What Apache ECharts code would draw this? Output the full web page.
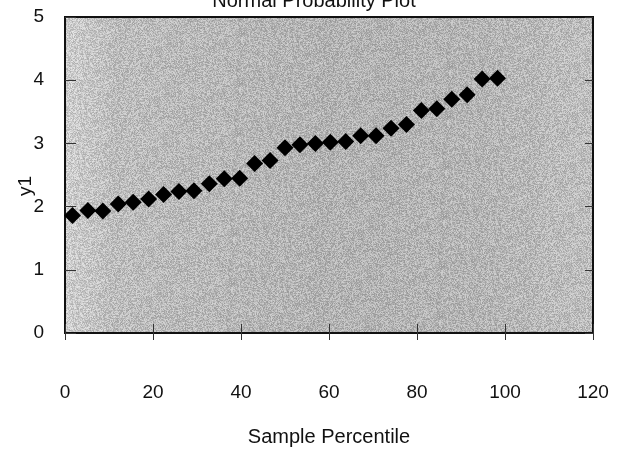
<!DOCTYPE html>
<html>
<head>
<meta charset="utf-8">
<script src="https://cdn.jsdelivr.net/npm/echarts@6/dist/echarts.min.js"></script>
<style>
html,body{margin:0;padding:0;background:#fff;}
#chart{width:628px;height:450px;}
</style>
</head>
<body>
<div id="chart"></div>
<script>
// ---- data ----
const titleText = 'Normal Probability Plot';
const xName = 'Sample Percentile';
const yName = 'y1';
const percentiles = [1.7, 5.2, 8.6, 12.1, 15.5, 19.0, 22.4, 25.9, 29.3, 32.8, 36.2, 39.7, 43.1, 46.6, 50.0,
  53.4, 56.9, 60.3, 63.8, 67.2, 70.7, 74.1, 77.6, 81.0, 84.5, 87.9, 91.4, 94.8, 98.3];
const y1Values = [1.86, 1.94, 1.93, 2.04, 2.07, 2.12, 2.19, 2.24, 2.25, 2.36, 2.44, 2.45, 2.68, 2.73, 2.93,
  2.98, 3.00, 3.02, 3.03, 3.12, 3.12, 3.24, 3.30, 3.52, 3.55, 3.70, 3.77, 4.02, 4.03];
const xTicks = [0, 20, 40, 60, 80, 100, 120];
const yTicks = [0, 1, 2, 3, 4, 5];

// ---- texture for plot background (styling only, deterministic) ----
function makeTexture(w, h) {
  const c = document.createElement('canvas');
  c.width = w; c.height = h;
  const ctx = c.getContext('2d');
  const g = ctx.createLinearGradient(65, 0, 593, 0);
  g.addColorStop(0, '#cdcdcd');
  g.addColorStop(0.1, '#bcbcbc');
  g.addColorStop(0.5, '#b2b2b2');
  g.addColorStop(0.8, '#b4b4b4');
  g.addColorStop(1, '#bebebe');
  ctx.fillStyle = g;
  ctx.fillRect(0, 0, w, h);
  const img = ctx.getImageData(0, 0, w, h);
  let s = 12345;
  for (let i = 0; i < img.data.length; i += 4) {
    s = (s * 1103515245 + 12345) & 0x7fffffff;
    const n = ((s >> 8) % 57) - 28;
    for (let k = 0; k < 3; k++) {
      img.data[i + k] = Math.max(0, Math.min(255, img.data[i + k] + n));
    }
  }
  ctx.putImageData(img, 0, 0);
  return c;
}

const chart = echarts.init(document.getElementById('chart'), null, {renderer: 'canvas'});
const font = '"Liberation Sans", Arial, sans-serif';
const plotW = 528, plotH = 316;

const baseX = {
  type: 'value', min: xTicks[0], max: xTicks[xTicks.length - 1], interval: 20,
  splitLine: {show: false}
};
const baseY = {
  type: 'value', min: yTicks[0], max: yTicks[yTicks.length - 1], interval: 1,
  splitLine: {show: false}
};

chart.setOption({
  animation: false,
  backgroundColor: '#ffffff',
  title: {
    text: titleText, left: 'center', top: -14,
    textStyle: {fontFamily: font, fontSize: 20, fontWeight: 'normal', color: '#111'}
  },
  grid: {
    left: 65, top: 17, right: 35, bottom: 117, containLabel: false,
    outerBoundsMode: 'none',
    show: true, borderColor: '#111', borderWidth: 2,
    backgroundColor: {image: makeTexture(628, 450), repeat: 'repeat'}
  },
  xAxis: [
    Object.assign({}, baseX, {
      position: 'bottom',
      name: xName, nameLocation: 'middle', nameGap: 94,
      nameTextStyle: {fontFamily: font, fontSize: 20, color: '#111'},
      axisLine: {show: true, lineStyle: {color: '#111', width: 2}},
      axisTick: {show: true, inside: true, length: 9, lineStyle: {color: '#333', width: 1}},
      axisLabel: {margin: 50, fontFamily: font, fontSize: 19, color: '#111'}
    }),
    Object.assign({}, baseX, {
      position: 'top', offset: -plotH,
      axisLine: {show: false},
      axisTick: {show: true, inside: true, length: 7, lineStyle: {color: '#333', width: 1}},
      axisLabel: {show: false}
    })
  ],
  yAxis: [
    Object.assign({}, baseY, {
      position: 'left',
      name: yName, nameLocation: 'middle', nameGap: 30, nameRotate: 90,
      nameMoveOverlap: false,
      nameTextStyle: {fontFamily: font, fontSize: 19, color: '#111', padding: [0, 0, 0, -22]},
      axisLine: {show: true, lineStyle: {color: '#111', width: 2}},
      axisTick: {show: true, inside: true, length: 11, lineStyle: {color: '#333', width: 1}},
      axisLabel: {margin: 21, fontFamily: font, fontSize: 19, color: '#111'}
    }),
    Object.assign({}, baseY, {
      position: 'right', offset: -plotW,
      axisLine: {show: false},
      axisTick: {show: true, inside: true, length: 8, lineStyle: {color: '#333', width: 1}},
      axisLabel: {show: false}
    })
  ],
  series: [{
    type: 'scatter',
    xAxisIndex: 0, yAxisIndex: 0,
    symbol: 'diamond', symbolSize: 17,
    itemStyle: {color: '#000', opacity: 1},
    data: percentiles.map((p, i) => [p, y1Values[i]])
  }]
});
</script>
</body>
</html>
